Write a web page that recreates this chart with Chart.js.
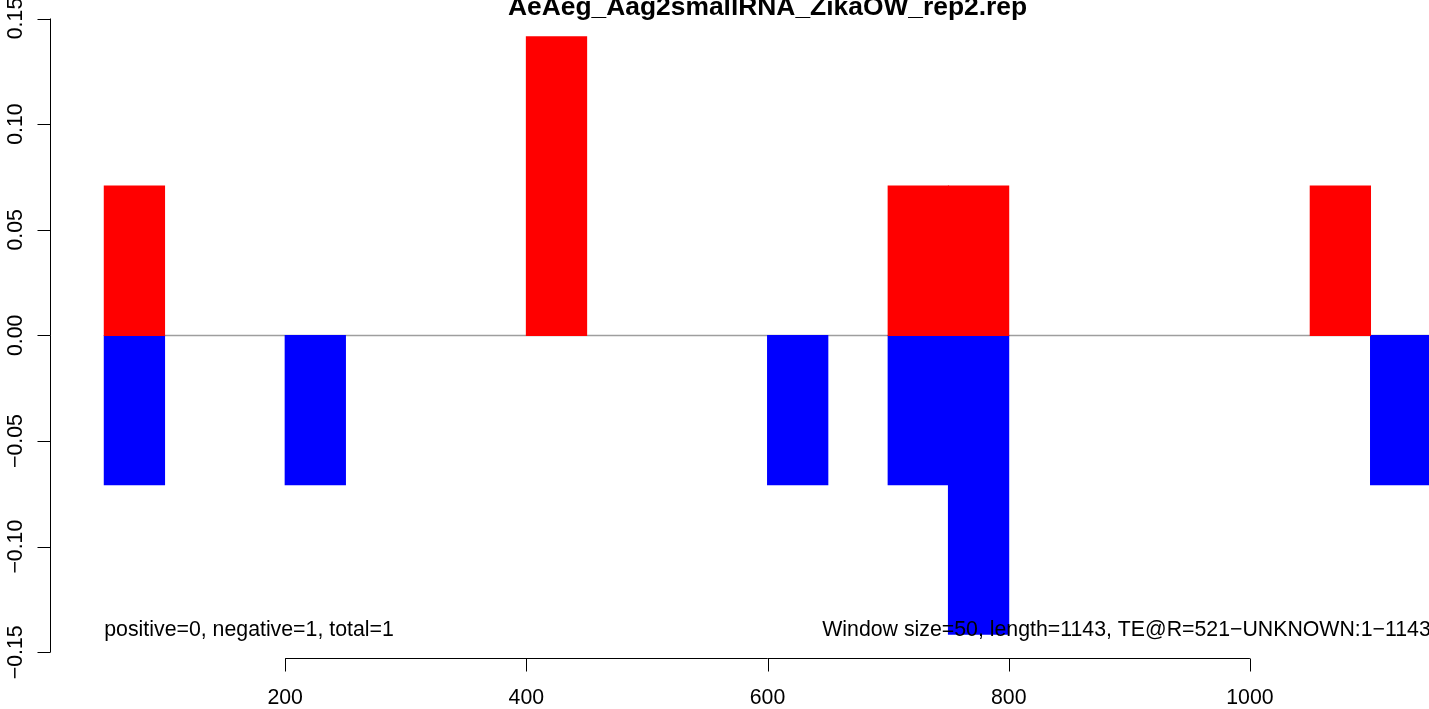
<!DOCTYPE html>
<html>
<head>
<meta charset="utf-8">
<script src="https://cdn.jsdelivr.net/npm/chart.js"></script>
<style>
  html, body { margin: 0; padding: 0; background: #fff; }
  #wrap { width: 1429px; height: 709px; }
</style>
</head>
<body>
<div id="wrap"><canvas id="myChart" width="1429" height="709"></canvas></div>
<script>
// window start positions (window size 50)
var bins = [50, 100, 150, 200, 250, 300, 350, 400, 450, 500, 550, 600, 650, 700, 750, 800, 850, 900, 950, 1000, 1050, 1100];
// sense (red) and antisense (blue) values per window
var senseVals = [0.0707, 0, 0, 0, 0, 0, 0, 0.1414, 0, 0, 0, 0, 0, 0.0707, 0.0707, 0, 0, 0, 0, 0, 0.0707, 0];
var antisenseVals = [-0.0707, 0, 0, -0.0707, 0, 0, 0, 0, 0, 0, 0, -0.0707, 0, -0.0707, -0.1414, 0, 0, 0, 0, 0, 0, -0.0707];
var windowSize = 50;
var yTicks = [-0.15, -0.10, -0.05, 0, 0.05, 0.10, 0.15];
var xTicks = [200, 400, 600, 800, 1000];
var title = 'AeAeg_Aag2smallRNA_ZikaOW_rep2.rep';
var leftNote = 'positive=0, negative=1, total=1';
var rightNote = 'Window size=50, length=1143, TE@R=521\u2212UNKNOWN:1\u22121143';
var zeroLine = [50, 1150];

// empty windows get null so no flat bar is drawn over the zero line
function toPoints(vals) {
    return bins.map(function (b, i) {
        return { x: b + windowSize / 2, y: vals[i] === 0 ? null : vals[i] };
    });
}

function fmtY(v) {
    var s = Math.abs(v).toFixed(2);
    return v < 0 ? '\u2212' + s : s;
}

// R style axes, title and notes
var rDecor = {
    id: 'rDecor',
    afterDraw: function (chart) {
        var ctx = chart.ctx;
        var x = chart.scales.x, y = chart.scales.y;
        var left = chart.chartArea.left;
        ctx.save();
        ctx.strokeStyle = '#000';
        ctx.fillStyle = '#000';
        ctx.lineWidth = 1;

        // y axis
        var ax = Math.round(left) + 0.5;
        ctx.beginPath();
        ctx.moveTo(ax, y.getPixelForValue(yTicks[0]));
        ctx.lineTo(ax, y.getPixelForValue(yTicks[yTicks.length - 1]));
        yTicks.forEach(function (t) {
            var py = Math.round(y.getPixelForValue(t)) + 0.5;
            ctx.moveTo(ax, py);
            ctx.lineTo(ax - 13, py);
        });
        ctx.stroke();
        ctx.font = '21.3px "Liberation Sans", Arial, sans-serif';
        ctx.textAlign = 'center';
        ctx.textBaseline = 'alphabetic';
        yTicks.forEach(function (t) {
            ctx.save();
            ctx.translate(22, y.getPixelForValue(t));
            ctx.rotate(-Math.PI / 2);
            ctx.fillText(fmtY(t), 0, 0);
            ctx.restore();
        });

        // x axis
        var ay = 658.5;
        ctx.beginPath();
        ctx.moveTo(x.getPixelForValue(xTicks[0]), ay);
        ctx.lineTo(x.getPixelForValue(xTicks[xTicks.length - 1]), ay);
        xTicks.forEach(function (t) {
            var px = Math.round(x.getPixelForValue(t)) + 0.5;
            ctx.moveTo(px, ay);
            ctx.lineTo(px, ay + 13);
        });
        ctx.stroke();
        xTicks.forEach(function (t) {
            ctx.fillText(String(t), x.getPixelForValue(t), 704);
        });

        // notes
        ctx.textAlign = 'left';
        ctx.fillText(leftNote, x.getPixelForValue(50), 636);
        ctx.textAlign = 'right';
        ctx.fillText(rightNote, x.getPixelForValue(1150), 636);

        // title
        ctx.font = 'bold 26.4px "Liberation Sans", Arial, sans-serif';
        ctx.textAlign = 'center';
        ctx.fillText(title, x.getPixelForValue(600), 14.5);
        ctx.restore();
    }
};

var ctx = document.getElementById('myChart').getContext('2d');
var myChart = new Chart(ctx, {
    type: 'bar',
    data: {
        datasets: [{
            label: 'sense',
            data: toPoints(senseVals),
            backgroundColor: '#ff0000',
            borderWidth: 0,
            inflateAmount: 0.5,
            barPercentage: 1,
            categoryPercentage: 1,
            order: 1
        }, {
            label: 'antisense',
            data: toPoints(antisenseVals),
            backgroundColor: '#0000ff',
            borderWidth: 0,
            inflateAmount: 0.5,
            barPercentage: 1,
            categoryPercentage: 1,
            order: 1
        }, {
            type: 'line',
            label: 'zero',
            data: zeroLine.map(function (v) { return { x: v, y: 0 }; }),
            borderColor: '#9e9e9e',
            borderWidth: 1.5,
            pointRadius: 0,
            order: 3
        }]
    },
    options: {
        responsive: false,
        animation: false,
        devicePixelRatio: 1,
        layout: { padding: { left: 50, right: 0, top: 18.5, bottom: 56.7 } },
        plugins: { legend: { display: false }, tooltip: { enabled: false } },
        scales: {
            x: { type: 'linear', min: 5, max: 1148.5, offset: false, stacked: true, display: false },
            y: { min: -0.15, max: 0.15, stacked: true, display: false }
        }
    },
    plugins: [rDecor]
});
</script>
</body>
</html>
